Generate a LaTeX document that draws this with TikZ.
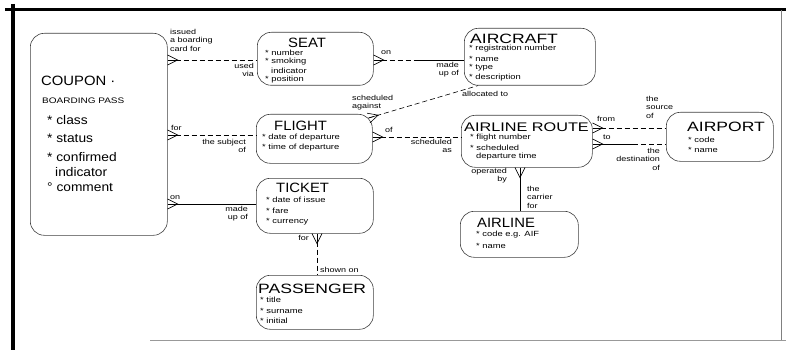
\documentclass[tikz,border=0pt]{standalone}
\usepackage{fontspec}
\setmainfont{Liberation Sans}
\newfontfamily\ttlfont{Liberation Sans}[FakeStretch=1.1]
\newfontfamily\ttlwide{Liberation Sans}[FakeStretch=1.3]
\newfontfamily\smfont{Liberation Sans}[FakeStretch=1.25]
\usetikzlibrary{calc}
\newcommand\crowft[2]{%
  \draw[cf] ($(#1)!5pt!90:(#2)$) -- ($(#1)!10pt!(#2)$) -- ($(#1)!5pt!-90:(#2)$);
  \draw[cf] ($(#1)!10pt!(#2)$) -- (#1);}
\begin{document}
\begin{tikzpicture}[x=1pt,y=-1pt,
  ent/.style={draw=black!75, line width=0.6pt, rounded corners=14pt, inner sep=0pt, anchor=north west},
  ttl/.style={anchor=west, inner sep=0pt, font=\ttlfont\fontsize{13.5}{13}\selectfont},
  ttlw/.style={anchor=west, inner sep=0pt, font=\ttlwide\fontsize{13.5}{13}\selectfont},
  att/.style={anchor=west, inner sep=0pt, font=\smfont\fontsize{7.5}{8}\selectfont},
  catt/.style={anchor=west, inner sep=0pt, font=\ttlfont\fontsize{12.5}{13}\selectfont},
  rel/.style={inner sep=0pt, font=\smfont\fontsize{7.2}{8.5}\selectfont},
  opt/.style={line width=0.6pt, dash pattern=on 5pt off 3pt},
  man/.style={line width=0.6pt},
  cf/.style={line width=0.6pt}]
\useasboundingbox (0,0) rectangle (786,350);
% frame
\draw[line width=3.5pt] (13,4) -- (13,350);
\draw[line width=2.5pt] (5,9.5) -- (786,9.5);
\draw[line width=0.6pt, black!40] (150,340) -- (786,340);
\draw[line width=0.6pt, black!50] (781,10) -- (781,340);
% entity boxes
\node[ent, minimum width=137pt, minimum height=202pt] (coupon) at (30,33) {};
\node[ent, minimum width=116pt, minimum height=53pt] (seat) at (257,32) {};
\node[ent, minimum width=131pt, minimum height=57pt] (aircraft) at (464,28) {};
\node[ent, minimum width=116pt, minimum height=49pt] (flight) at (256,114) {};
\node[ent, minimum width=131pt, minimum height=52pt] (route) at (461,115) {};
\node[ent, minimum width=107pt, minimum height=49pt] (airport) at (666,112) {};
\node[ent, minimum width=117pt, minimum height=55pt] (ticket) at (256,178) {};
\node[ent, minimum width=118pt, minimum height=46pt] (airline) at (460,211) {};
\node[ent, minimum width=117pt, minimum height=54pt] (passenger) at (256,275) {};
% coupon text
\node[ttl] (tcoupon) at (41,81) {COUPON ·};
\node[att, font=\smfont\fontsize{8}{8}\selectfont] (tbp) at (42,101) {BOARDING PASS};
\node[catt] (c1) at (47,120) {* class};
\node[catt] (c2) at (47,138) {* status};
\node[catt] (c3) at (47,157) {* confirmed};
\node[catt] (c4) at (55,172) {indicator};
\node[catt] (c5) at (47,187) {° comment};
% seat
\node[ttl] (tseat) at (288,43) {SEAT};
\node[att] (s1) at (265,53) {* number};
\node[att] (s2) at (265,62) {* smoking};
\node[att] (s3) at (271,71) {indicator};
\node[att] (s4) at (265,80) {* position};
% aircraft
\node[ttlw] (taircraft) at (470,39) {AIRCRAFT};
\node[att] (a1) at (469,49) {* registration number};
\node[att] (a2) at (469,58.5) {* name};
\node[att] (a3) at (469,68) {* type};
\node[att] (a4) at (469,77.5) {* description};
% flight
\node[ttl] (tflight) at (274,126) {FLIGHT};
\node[att] (f1) at (262,138) {* date of departure};
\node[att] (f2) at (262,148) {* time of departure};
% airline route
\node[ttlw, font=\ttlwide\fontsize{12.5}{13}\selectfont] (troute) at (464,127) {AIRLINE ROUTE};
\node[att] (r1) at (470,138) {* flight number};
\node[att] (r2) at (470,148) {* scheduled};
\node[att] (r3) at (476,157) {departure time};
% airport
\node[ttlw] (tairport) at (687,127) {AIRPORT};
\node[att] (p1) at (688,140) {* code};
\node[att] (p2) at (688,150) {* name};
% ticket
\node[ttl] (tticket) at (276,188) {TICKET};
\node[att] (k1) at (266,200) {* date of issue};
\node[att] (k2) at (266,211) {* fare};
\node[att] (k3) at (266,222) {* currency};
% airline
\node[ttl] (tairline) at (477,223) {AIRLINE};
\node[att] (l1) at (476,235) {* code e.g. AIF};
\node[att] (l2) at (476,246) {* name};
% passenger
\node[ttlw] (tpassenger) at (258,289) {PASSENGER};
\node[att] (g1) at (260,300) {* title};
\node[att] (g2) at (260,311) {* surname};
\node[att] (g3) at (260,321) {* initial};
% levels
\coordinate (yA) at (0,60);
\coordinate (yC) at (0,135);
\coordinate (yD) at (0,137);
\coordinate (yE) at (0,128);
\coordinate (yF) at (0,144);
\coordinate (yG) at (0,204);
\coordinate (xH) at (520,0);
\coordinate (xI) at (317,0);
% coupon - seat
\coordinate (e1a) at (coupon.east |- yA);
\coordinate (e1b) at (seat.west |- yA);
\draw[opt] (e1a) -- (e1b);
\crowft{e1a}{e1b}
\node[rel, anchor=north west, align=left] (l1a) at (170,29) {issued\\a boarding\\card for};
\node[rel, anchor=north east, align=right] (l1b) at (254,63) {used\\via};
% seat - aircraft
\coordinate (e2a) at (seat.east |- yA);
\coordinate (e2b) at (aircraft.west |- yA);
\draw[opt] (e2a) -- ($(e2a)!0.5!(e2b)$);
\draw[man] ($(e2a)!0.5!(e2b)$) -- (e2b);
\crowft{e2a}{e2b}
\node[rel, anchor=west] (l2a) at (381,53) {on};
\node[rel, anchor=north east, align=right] (l2b) at (459,62) {made\\up of};
% flight - aircraft
\coordinate (e3a) at ($(flight.north east)+(-4,4)$);
\coordinate (e3b) at ($(aircraft.south west)+(14,0)$);
\draw[opt] (e3a) -- (e3b);
\crowft{e3a}{e3b}
\node[rel, anchor=north west, align=left] (l3a) at (352,95) {scheduled\\against};
\node[rel, anchor=west] (l3b) at (462,94) {allocated to};
% coupon - flight
\coordinate (e4a) at (coupon.east |- yC);
\coordinate (e4b) at (flight.west |- yC);
\draw[opt] (e4a) -- (e4b);
\crowft{e4a}{e4b}
\node[rel, anchor=west] (l4a) at (171,128) {for};
\node[rel, anchor=north east, align=right] (l4b) at (246,139) {the subject\\of};
% flight - route
\coordinate (e5a) at (flight.east |- yD);
\coordinate (e5b) at (route.west |- yD);
\draw[opt] (e5a) -- (e5b);
\crowft{e5a}{e5b}
\node[rel, anchor=west] (l5a) at (385,130) {of};
\node[rel, anchor=north east, align=right] (l5b) at (452,139) {scheduled\\as};
% route - airport (from)
\coordinate (e6a) at (route.east |- yE);
\coordinate (e6b) at (airport.west |- yE);
\draw[opt] (e6a) -- (e6b);
\crowft{e6a}{e6b}
\node[rel, anchor=west] (l6a) at (597,119) {from};
\node[rel, anchor=north west, align=left] (l6b) at (646,96) {the\\source\\of};
% route - airport (to)
\coordinate (e7a) at (route.east |- yF);
\coordinate (e7b) at (airport.west |- yF);
\draw[man] (e7a) -- ($(e7a)!0.55!(e7b)$);
\draw[opt] ($(e7a)!0.55!(e7b)$) -- (e7b);
\crowft{e7a}{e7b}
\node[rel, anchor=west] (l7a) at (603,137) {to};
\node[rel, anchor=north east, align=right] (l7b) at (660,148) {the\\destination\\of};
% route - airline
\coordinate (e8a) at (route.south -| xH);
\coordinate (e8b) at (airline.north -| xH);
\draw[man] (e8a) -- (e8b);
\crowft{e8a}{e8b}
\node[rel, anchor=north east, align=right] (l8a) at (507,168) {operated\\by};
\node[rel, anchor=north west, align=left] (l8b) at (527,186) {the\\carrier\\for};
% coupon - ticket
\coordinate (e9a) at (coupon.east |- yG);
\coordinate (e9b) at (ticket.west |- yG);
\draw[man] (e9a) -- (e9b);
\crowft{e9a}{e9b}
\node[rel, anchor=west] (l9a) at (170,198) {on};
\node[rel, anchor=north east, align=right] (l9b) at (248,206) {made\\up of};
% ticket - passenger
\coordinate (e10a) at (ticket.south -| xI);
\coordinate (e10b) at (passenger.north -| xI);
\draw[opt] (e10a) -- (e10b);
\crowft{e10a}{e10b}
\node[rel, anchor=east] (l10a) at (309,238) {for};
\node[rel, anchor=west] (l10b) at (320,270) {shown on};
\end{tikzpicture}
\end{document}
